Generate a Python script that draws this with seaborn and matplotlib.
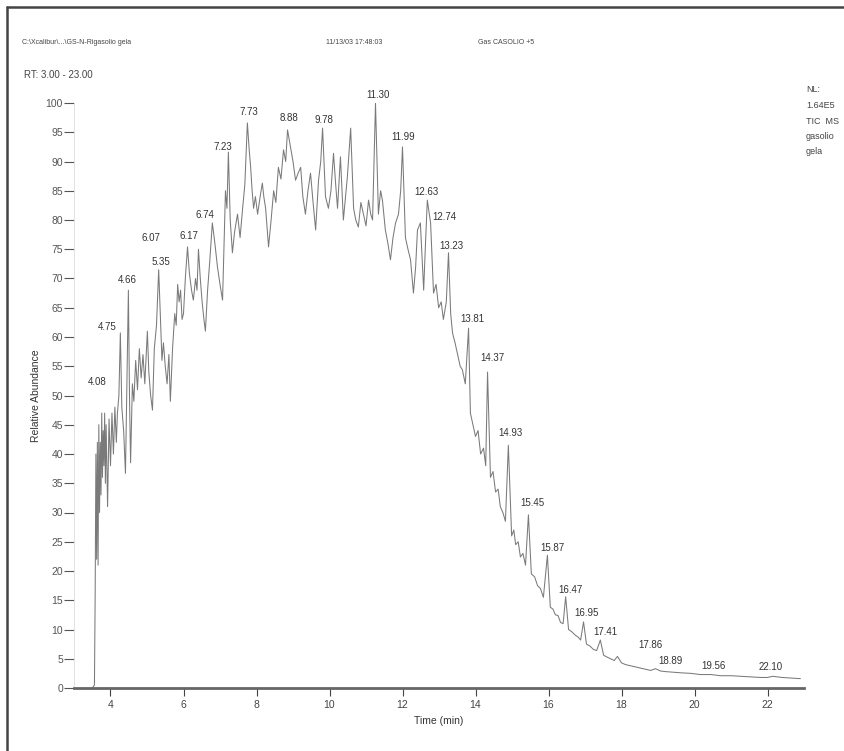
import numpy as np
import pandas as pd
import matplotlib
matplotlib.use("Agg")
import matplotlib.pyplot as plt
from matplotlib.lines import Line2D
from matplotlib.ticker import MultipleLocator
import seaborn as sns

# trace: retention time (min) / relative abundance (%)
rt = [3.50, 3.56, 3.58, 3.60, 3.62, 3.64, 3.66, 3.68, 3.70, 3.72, 3.74, 3.76,
      3.78, 3.80, 3.82, 3.84, 3.86, 3.88, 3.92, 3.96, 4.00, 4.04, 4.08, 4.12,
      4.16, 4.19, 4.23, 4.27, 4.31, 4.36, 4.41, 4.45, 4.49, 4.52, 4.55, 4.60,
      4.64, 4.69, 4.74, 4.79, 4.84, 4.89, 4.94, 5.01, 5.05, 5.10, 5.15, 5.20,
      5.26, 5.32, 5.37, 5.41, 5.45, 5.50, 5.55, 5.60, 5.64, 5.70, 5.76, 5.80,
      5.84, 5.88, 5.92, 5.96, 6.00, 6.05, 6.11, 6.16, 6.22, 6.27, 6.33, 6.37,
      6.41, 6.46, 6.51, 6.56, 6.60, 6.66, 6.72, 6.79, 6.86, 6.93, 7.00, 7.07,
      7.11, 7.15, 7.19, 7.23, 7.28, 7.34, 7.40, 7.48, 7.55, 7.62, 7.68, 7.75,
      7.80, 7.84, 7.88, 7.92, 7.97, 8.03, 8.10, 8.16, 8.20, 8.25, 8.33, 8.40,
      8.47, 8.53, 8.60, 8.67, 8.74, 8.80, 8.85, 8.93, 9.00, 9.07, 9.14, 9.21,
      9.27, 9.34, 9.41, 9.48, 9.55, 9.62, 9.70, 9.76, 9.81, 9.89, 9.97, 10.04,
      10.11, 10.17, 10.22, 10.30, 10.38, 10.44, 10.49, 10.58, 10.66, 10.72,
      10.79, 10.86, 10.93, 11.00, 11.07, 11.13, 11.18, 11.26, 11.34, 11.40,
      11.45, 11.53, 11.60, 11.67, 11.74, 11.81, 11.89, 11.95, 12.00, 12.08,
      12.15, 12.22, 12.30, 12.36, 12.41, 12.49, 12.58, 12.63, 12.68, 12.77,
      12.85, 12.92, 12.99, 13.06, 13.12, 13.20, 13.26, 13.32, 13.37, 13.44,
      13.51, 13.58, 13.64, 13.72, 13.81, 13.86, 13.93, 14.00, 14.07, 14.14,
      14.22, 14.28, 14.33, 14.41, 14.48, 14.55, 14.62, 14.68, 14.75, 14.82,
      14.90, 14.99, 15.05, 15.10, 15.17, 15.23, 15.30, 15.37, 15.45, 15.53,
      15.62, 15.70, 15.78, 15.86, 15.97, 16.05, 16.12, 16.19, 16.26, 16.33,
      16.40, 16.47, 16.55, 16.64, 16.74, 16.81, 16.88, 16.96, 17.04, 17.13,
      17.23, 17.32, 17.42, 17.51, 17.60, 17.70, 17.80, 17.89, 18.00, 18.11,
      18.25, 18.38, 18.52, 18.66, 18.80, 18.93, 19.07, 19.21, 19.40, 19.62,
      19.90, 20.16, 20.45, 20.71, 21.00, 21.26, 21.55, 21.81, 22.00, 22.14,
      22.40, 22.63, 22.90]
abundance = [0.0, 0.5, 16, 40, 22, 42, 21, 45, 30, 42, 33, 47,
             36, 44, 38, 47, 35, 45, 31, 46, 38, 47, 40, 48,
             42, 47, 50, 60.7, 48, 44, 36.7, 52, 68, 50, 38.5, 52,
             49, 56, 51, 58, 53, 57, 52, 61, 54, 50, 47.5, 58,
             62, 71.5, 63, 56, 59, 55, 52, 57, 49, 58, 64, 62,
             69, 66, 68, 63, 64, 70, 75.4, 71, 68, 66.3, 70, 68,
             75, 70, 66, 63, 61, 68, 73, 79.5, 76, 72, 69, 66.3,
             76, 85, 82, 91.6, 80, 74.4, 78, 81, 77, 82, 86, 96.6,
             92, 89, 85, 82, 84, 81, 84, 86.3, 84, 82, 75.4, 80,
             85, 83, 89, 87, 92, 90, 95.4, 92.5, 90, 86.8, 88, 89,
             84, 81, 85, 88, 83, 78.3, 86.8, 90, 95.7, 84, 82, 85,
             91.4, 86, 82, 90.8, 80, 84, 87.4, 95.7, 82, 80,
             78.8, 83, 81, 79, 83.4, 81, 80, 100, 81, 85,
             83.4, 78.3, 76, 73.2, 77, 79.5, 81, 85, 92.5, 77,
             75, 73.2, 67.5, 72, 78.3, 79.5, 68, 76, 83.4, 79.5,
             67.5, 69, 65, 66, 63, 66, 74.4, 64, 60.7, 59,
             57, 55, 54.4, 52, 61.5, 47, 45, 43, 44, 40,
             41, 38, 54, 36, 37, 33.5, 34, 31, 30, 28.5,
             41.5, 26, 27, 24.5, 25, 22.4, 23, 21, 29.6, 19.5,
             19, 17.5, 17, 15.5, 22.7, 13.8, 13.5, 12.5, 12.4, 11.2,
             11.0, 15.6, 10.0, 9.6, 9.0, 8.7, 8.2, 11.3, 7.5, 7.2,
             6.6, 6.4, 8.2, 5.6, 5.3, 5.0, 4.7, 5.4, 4.3, 4.0,
             3.8, 3.6, 3.4, 3.2, 3.0, 3.3, 2.9, 2.8, 2.7, 2.6,
             2.5, 2.3, 2.3, 2.1, 2.1, 2.0, 1.9, 1.8, 1.8, 2.0,
             1.8, 1.7, 1.6]

# peak labels and where they sit (time, abundance of label centre)
peak_text = ["4.08", "4.75", "4.66", "5.35", "6.07", "6.17", "6.74", "7.23",
             "7.73", "8.88", "9.78", "11.30", "11.99", "12.63", "12.74",
             "13.23", "13.81", "14.37", "14.93", "15.45", "15.87", "16.47",
             "16.95", "17.41", "17.86", "18.89", "19.56", "22.10"]
peak_t = [3.64, 3.92, 4.47, 5.37, 5.10, 6.14, 6.60, 7.07, 7.78, 8.88, 9.84,
          11.32, 12.03, 12.66, 13.15, 13.35, 13.92, 14.47, 14.96, 15.55,
          16.10, 16.60, 17.05, 17.55, 18.79, 19.34, 20.52, 22.08]
peak_v = [52.3, 61.7, 69.7, 72.8, 76.9, 77.3, 80.9, 92.5, 98.5, 97.4, 97.1,
          101.4, 94.2, 84.8, 80.5, 75.6, 63.1, 56.4, 43.6, 31.6, 23.9, 16.8,
          12.8, 9.6, 7.4, 4.6, 3.8, 3.6]

df = pd.DataFrame({"Time": rt, "RelAb": abundance})

sns.set_style("white")
plt.rcParams["font.family"] = ["Liberation Sans", "DejaVu Sans"]

W, H = 844, 751
fig = plt.figure(figsize=(W / 100, H / 100), dpi=100)
ax = fig.add_axes([74 / W, 1 - 688 / H, (804 - 74) / W, (688 - 103) / H])

sns.lineplot(data=df, x="Time", y="RelAb", ax=ax, color="#7a7a7a",
             linewidth=0.75, estimator=None, sort=False)

for txt, t, v in zip(peak_text, peak_t, peak_v):
    ax.text(t, v, txt, ha="center", va="center", fontsize=7, color="#333333",
            clip_on=False)

ax.set_xlim(3.0, 23.0)
ax.set_ylim(0, 100)
ax.xaxis.set_minor_locator(MultipleLocator(0.25))
ax.yaxis.set_major_locator(MultipleLocator(5))
ax.set_xticks(np.arange(4, 23, 2))
ax.tick_params(axis="x", which="major", direction="out", length=6, width=0.8,
               labelsize=7.5, pad=3, colors="#444444")
ax.tick_params(axis="x", which="minor", direction="out", length=3, width=0.6,
               colors="#777777")
ax.tick_params(axis="y", which="major", direction="out", length=7, width=0.8,
               labelsize=7.5, pad=1, colors="#555555")
ax.tick_params(left=True, bottom=True)

for side in ["top", "right"]:
    ax.spines[side].set_visible(False)
ax.spines["left"].set_color("#dddddd")
ax.spines["left"].set_linewidth(0.6)
ax.spines["bottom"].set_color("#666666")
ax.spines["bottom"].set_linewidth(2.0)

ax.set_xlabel("Time (min)", fontsize=7.5, color="#333333", labelpad=4)
ax.set_ylabel("Relative Abundance", fontsize=7.5, color="#333333", labelpad=3)

def ftxt(x, y, s, **kw):
    fig.text(x / W, 1 - y / H, s, va="center", color="#444444", **kw)

ftxt(22, 42, r"C:\Xcalibur\...\GS-N-Rigasolio gela", fontsize=5)
ftxt(326, 42, "11/13/03 17:48:03", fontsize=5)
ftxt(478, 42, "Gas CASOLIO +5", fontsize=5)
ftxt(24, 75, "RT: 3.00 - 23.00", fontsize=7)
for i, s in enumerate(["NL:", "1.64E5", "TIC  MS", "gasolio", "gela"]):
    ftxt(806, 90 + i * 15.5, s, fontsize=6.5)

# scan frame: left and top edges
fig.add_artist(Line2D([7 / W, 7 / W], [0, 1 - 7 / H], transform=fig.transFigure,
                      color="#444444", linewidth=1.8))
fig.add_artist(Line2D([7 / W, 1], [1 - 7 / H, 1 - 7 / H],
                      transform=fig.transFigure, color="#444444", linewidth=1.8))

fig.savefig("out.png", dpi=100)
